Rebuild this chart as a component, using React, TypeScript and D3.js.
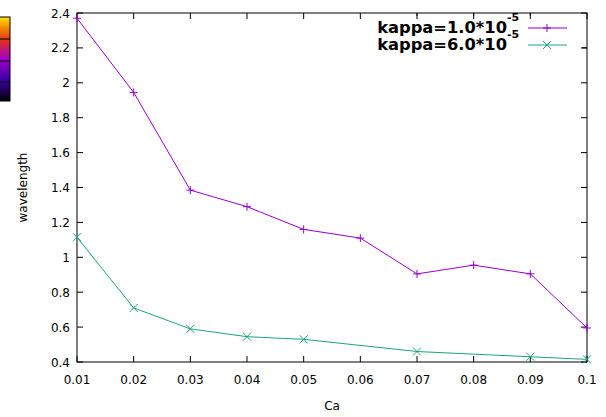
import React from "react";
import * as d3 from "d3";

// Ca values and measured wavelength for the two kappa runs
const caValues = [0.01, 0.02, 0.03, 0.04, 0.05, 0.06, 0.07, 0.08, 0.09, 0.1];
const kappa1Values = [2.37, 1.945, 1.385, 1.29, 1.16, 1.11, 0.905, 0.955, 0.905, 0.595];
const kappa6Ca = [0.01, 0.02, 0.03, 0.04, 0.05, 0.07, 0.09, 0.1];
const kappa6Values = [1.115, 0.71, 0.59, 0.545, 0.53, 0.46, 0.43, 0.415];
const xTicks = [0.01, 0.02, 0.03, 0.04, 0.05, 0.06, 0.07, 0.08, 0.09, 0.1];
const yTicks = [0.4, 0.6, 0.8, 1, 1.2, 1.4, 1.6, 1.8, 2, 2.2, 2.4];
const seriesNames = ["kappa=1.0*10", "kappa=6.0*10"];

const W = 606;
const H = 417;
const margin = { left: 77, right: 19, top: 13, bottom: 55 };
const PURPLE = "#9400d3";
const GREEN = "#1aa57e";
const tickFont = "'DejaVu Sans', sans-serif";

const App = () => {
  const x = d3.scaleLinear().domain([0.01, 0.1]).range([margin.left, W - margin.right]);
  const y = d3.scaleLinear().domain([0.4, 2.4]).range([H - margin.bottom, margin.top]);
  const x0 = x.range()[0];
  const x1 = x.range()[1];
  const yb = y.range()[0];
  const yt = y.range()[1];
  const tl = 6; // tick length

  const line = d3.line<[number, number]>().x((d) => x(d[0])).y((d) => y(d[1]));
  const s1: [number, number][] = caValues.map((c, i) => [c, kappa1Values[i]]);
  const s2: [number, number][] = kappa6Ca.map((c, i) => [c, kappa6Values[i]]);

  const plus = (cx: number, cy: number, col: string, k: string) => (
    <path key={k} d={`M${cx - 4},${cy}H${cx + 4}M${cx},${cy - 4}V${cy + 4}`} stroke={col} strokeWidth={1} fill="none" />
  );
  const cross = (cx: number, cy: number, col: string, k: string) => (
    <path key={k} d={`M${cx - 4},${cy - 4}L${cx + 4},${cy + 4}M${cx - 4},${cy + 4}L${cx + 4},${cy - 4}`} stroke={col} strokeWidth={1} fill="none" />
  );

  // palette strip partly visible at the left edge
  const barTicks = [39, 61, 82];

  return (
    <svg width={W} height={H} style={{ position: "absolute", left: 0, top: 0, background: "#fff" }}>
      <defs>
        <linearGradient id="pal" x1="0" y1="1" x2="0" y2="0">
          <stop offset="0" stopColor="#000000" />
          <stop offset="0.25" stopColor="#3a00a8" />
          <stop offset="0.5" stopColor="#a000c8" />
          <stop offset="0.72" stopColor="#e0301a" />
          <stop offset="0.88" stopColor="#f39000" />
          <stop offset="1" stopColor="#ffe400" />
        </linearGradient>
      </defs>
      <rect x={-5} y={17} width={15} height={84} fill="url(#pal)" stroke="#000" strokeWidth={1} />
      {barTicks.map((t) => (
        <line key={t} x1={0} x2={10} y1={t} y2={t} stroke="#000" strokeWidth={1} />
      ))}

      {/* ticks, mirrored on all sides */}
      {xTicks.map((t) => (
        <g key={"xt" + t}>
          <line x1={x(t)} x2={x(t)} y1={yb} y2={yb - tl} stroke="#000" />
          <line x1={x(t)} x2={x(t)} y1={yt} y2={yt + tl} stroke="#000" />
          <text x={x(t)} y={yb + 22} textAnchor="middle" fontFamily={tickFont} fontSize={12} fill="#000">
            {d3.format("")(t)}
          </text>
        </g>
      ))}
      {yTicks.map((t) => (
        <g key={"yt" + t}>
          <line x1={x0} x2={x0 + tl} y1={y(t)} y2={y(t)} stroke="#000" />
          <line x1={x1} x2={x1 - tl} y1={y(t)} y2={y(t)} stroke="#000" />
          <text x={x0 - 7} y={y(t) + 4.5} textAnchor="end" fontFamily={tickFont} fontSize={12} fill="#000">
            {d3.format("")(Math.round(t * 10) / 10)}
          </text>
        </g>
      ))}

      <rect x={x0} y={yt} width={x1 - x0} height={yb - yt} fill="none" stroke="#000" strokeWidth={1} />

      <text x={(x0 + x1) / 2} y={410} textAnchor="middle" fontFamily={tickFont} fontSize={12} fill="#000">
        Ca
      </text>
      <text
        transform={`translate(27,${(yt + yb) / 2}) rotate(-90)`}
        textAnchor="middle"
        fontFamily={tickFont}
        fontSize={12}
        fill="#000"
      >
        wavelength
      </text>

      {/* series */}
      <path d={line(s1) ?? ""} fill="none" stroke={PURPLE} strokeWidth={1} />
      {s1.map((d, i) => plus(x(d[0]), y(d[1]), PURPLE, "p" + i))}
      <path d={line(s2) ?? ""} fill="none" stroke={GREEN} strokeWidth={1} />
      {s2.map((d, i) => cross(x(d[0]), y(d[1]), GREEN, "c" + i))}

      {/* legend */}
      <rect x={372} y={16} width={210} height={38} fill="#fff" />
      {seriesNames.map((name, i) => {
        const ly = 28 + i * 17;
        const col = i === 0 ? PURPLE : GREEN;
        return (
          <g key={name}>
            <text x={507} y={ly + 5} textAnchor="end" fontFamily={tickFont} fontWeight="bold" fontSize={16.3} fill="#000">
              {name}
            </text>
            <text x={507} y={ly - 7} fontFamily={tickFont} fontWeight="bold" fontSize={11} fill="#000">
              -5
            </text>
            <line x1={528} x2={567} y1={ly} y2={ly} stroke={col} strokeWidth={1} />
            {i === 0 ? plus(547, ly, col, "lp") : cross(547, ly, col, "lc")}
          </g>
        );
      })}
      {/* ticks redrawn over legend background */}
      {xTicks.filter((t) => x(t) > 372 && x(t) < 582).map((t) => (
        <line key={"rt" + t} x1={x(t)} x2={x(t)} y1={yt} y2={yt + tl} stroke="#000" />
      ))}
      <line x1={x1} x2={x1 - tl} y1={y(2.2)} y2={y(2.2)} stroke="#000" />
    </svg>
  );
};

export default App;
